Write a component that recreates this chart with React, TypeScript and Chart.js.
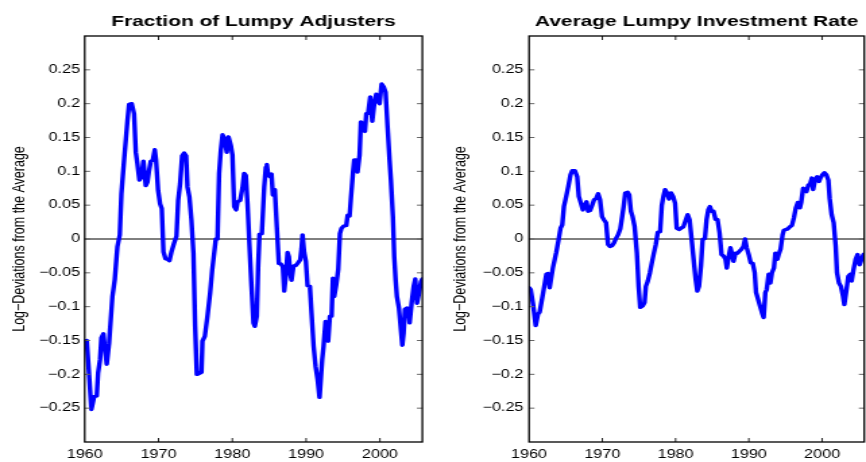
import React, { useEffect, useRef } from 'react';
import { Chart, registerables } from 'chart.js';

Chart.register(...registerables);

// ---------- data ----------
const xMin = 1960;
const xMax = 2005.75;
const yMin = -0.3;
const yMax = 0.3;

const xTickValues = [1960, 1970, 1980, 1990, 2000];
const xTickLabels = ['1960', '1970', '1980', '1990', '2000'];
const yTickValues = [-0.25, -0.2, -0.15, -0.1, -0.05, 0, 0.05, 0.1, 0.15, 0.2, 0.25];
const yTickLabels = ['−0.25', '−0.2', '−0.15', '−0.1', '−0.05', '0', '0.05', '0.1', '0.15', '0.2', '0.25'];

const panelTitles = ['Fraction of Lumpy Adjusters', 'Average Lumpy Investment Rate'];
const yAxisTitle = 'Log−Deviations from the Average';

const zeroLineYears = [1960, 2005.75];
const zeroLineValues = [0, 0];

const adjustersYears = [
  1960.00, 1960.27, 1960.59, 1960.90, 1961.27, 1961.63, 1961.81, 1962.08, 1962.26, 1962.53,
  1962.71, 1962.98, 1963.30, 1963.75, 1964.07, 1964.43, 1964.75, 1964.97, 1965.33, 1965.79,
  1966.01, 1966.37, 1966.69, 1966.92, 1967.14, 1967.41, 1967.68, 1967.95, 1968.14, 1968.27,
  1968.50, 1968.72, 1968.95, 1969.22, 1969.49, 1969.67, 1969.94, 1970.21, 1970.44, 1970.67,
  1970.94, 1971.21, 1971.48, 1971.75, 1972.11, 1972.43, 1972.66, 1972.93, 1973.20, 1973.47,
  1973.74, 1973.92, 1974.19, 1974.46, 1974.73, 1974.96, 1975.19, 1975.46, 1975.82, 1975.95,
  1976.27, 1976.63, 1976.99, 1977.27, 1977.54, 1977.76, 1977.99, 1978.21, 1978.44, 1978.67,
  1978.90, 1979.25, 1979.48, 1979.80, 1980.02, 1980.25, 1980.52, 1980.70, 1981.06, 1981.38,
  1981.60, 1981.83, 1982.06, 1982.33, 1982.60, 1982.87, 1983.05, 1983.32, 1983.50, 1983.68,
  1984.00, 1984.32, 1984.54, 1984.68, 1984.86, 1985.13, 1985.31, 1985.49, 1985.76, 1986.03,
  1986.30, 1986.58, 1986.85, 1987.03, 1987.25, 1987.48, 1987.66, 1987.84, 1988.02, 1988.29,
  1988.61, 1988.84, 1989.20, 1989.38, 1989.51, 1989.74, 1989.97, 1990.19, 1990.51, 1990.73,
  1991.01, 1991.28, 1991.55, 1991.82, 1992.18, 1992.36, 1992.63, 1992.81, 1992.99, 1993.22,
  1993.45, 1993.63, 1993.81, 1994.08, 1994.35, 1994.58, 1994.80, 1995.07, 1995.44, 1995.62,
  1995.89, 1996.07, 1996.34, 1996.52, 1996.79, 1996.97, 1997.24, 1997.42, 1997.69, 1997.97,
  1998.15, 1998.42, 1998.69, 1998.96, 1999.23, 1999.50, 1999.68, 1999.96, 2000.23, 2000.50,
  2000.77, 2001.04, 2001.31, 2001.49, 2001.76, 2001.94, 2002.12, 2002.30, 2002.58, 2002.76,
  2003.03, 2003.21, 2003.39, 2003.66, 2003.84, 2004.02, 2004.29, 2004.57, 2004.79, 2005.02,
  2005.29, 2005.56, 2005.75,
];
const adjustersValues = [
  -0.151, -0.150, -0.200, -0.252, -0.233, -0.232, -0.198, -0.178, -0.146, -0.140,
  -0.159, -0.185, -0.154, -0.085, -0.060, -0.011, 0.006, 0.067, 0.116, 0.175,
  0.199, 0.200, 0.185, 0.128, 0.111, 0.087, 0.092, 0.115, 0.094, 0.079,
  0.084, 0.101, 0.115, 0.116, 0.132, 0.116, 0.072, 0.052, 0.045, -0.019,
  -0.029, -0.030, -0.032, -0.019, -0.006, 0.004, 0.057, 0.082, 0.123, 0.127,
  0.123, 0.077, 0.062, 0.028, -0.021, -0.129, -0.200, -0.199, -0.197, -0.151,
  -0.144, -0.114, -0.080, -0.046, -0.021, 0.000, 0.000, 0.097, 0.131, 0.154,
  0.149, 0.128, 0.151, 0.138, 0.124, 0.048, 0.043, 0.055, 0.057, 0.076,
  0.097, 0.094, 0.052, -0.011, -0.070, -0.124, -0.129, -0.114, -0.040, 0.007,
  0.008, 0.077, 0.106, 0.110, 0.094, 0.092, 0.096, 0.065, 0.073, 0.018,
  -0.036, -0.037, -0.041, -0.077, -0.055, -0.020, -0.026, -0.050, -0.061, -0.040,
  -0.039, -0.036, -0.031, -0.014, 0.006, -0.020, -0.033, -0.069, -0.070, -0.109,
  -0.158, -0.188, -0.207, -0.234, -0.178, -0.159, -0.122, -0.124, -0.151, -0.114,
  -0.114, -0.058, -0.085, -0.068, -0.045, 0.008, 0.016, 0.019, 0.020, 0.035,
  0.034, 0.060, 0.097, 0.117, 0.117, 0.099, 0.124, 0.173, 0.170, 0.159,
  0.185, 0.187, 0.210, 0.174, 0.200, 0.214, 0.204, 0.200, 0.229, 0.225,
  0.217, 0.165, 0.116, 0.087, 0.033, -0.026, -0.060, -0.085, -0.102, -0.124,
  -0.157, -0.139, -0.104, -0.102, -0.103, -0.124, -0.095, -0.070, -0.059, -0.095,
  -0.080, -0.063, -0.059,
];

const investmentYears = [
  1960.00, 1960.23, 1960.54, 1960.91, 1961.22, 1961.45, 1961.90, 1962.36, 1962.58, 1962.81,
  1963.26, 1963.71, 1964.00, 1964.30, 1964.53, 1964.76, 1965.07, 1965.34, 1965.66, 1965.89,
  1966.25, 1966.57, 1966.79, 1967.07, 1967.34, 1967.61, 1967.84, 1968.06, 1968.33, 1968.61,
  1968.88, 1969.15, 1969.42, 1969.69, 1969.96, 1970.24, 1970.51, 1970.78, 1971.05, 1971.32,
  1971.59, 1971.87, 1972.14, 1972.45, 1972.68, 1972.91, 1973.13, 1973.45, 1973.68, 1973.90,
  1974.13, 1974.40, 1974.72, 1974.95, 1975.17, 1975.49, 1975.76, 1975.94, 1976.21, 1976.49,
  1976.76, 1977.03, 1977.30, 1977.57, 1977.89, 1978.12, 1978.34, 1978.57, 1978.84, 1979.11,
  1979.38, 1979.66, 1979.93, 1980.15, 1980.47, 1980.74, 1981.06, 1981.38, 1981.65, 1981.92,
  1982.19, 1982.46, 1982.74, 1982.96, 1983.19, 1983.46, 1983.69, 1984.00, 1984.23, 1984.46,
  1984.68, 1984.91, 1985.18, 1985.45, 1985.72, 1986.00, 1986.27, 1986.54, 1986.81, 1986.99,
  1987.26, 1987.49, 1987.72, 1987.90, 1988.17, 1988.44, 1988.71, 1988.99, 1989.26, 1989.48,
  1989.71, 1989.98, 1990.25, 1990.53, 1990.80, 1990.98, 1991.25, 1991.52, 1991.79, 1992.02,
  1992.25, 1992.43, 1992.70, 1992.93, 1993.15, 1993.42, 1993.61, 1993.88, 1994.06, 1994.33,
  1994.60, 1994.78, 1995.05, 1995.33, 1995.60, 1995.87, 1996.14, 1996.41, 1996.68, 1996.96,
  1997.14, 1997.41, 1997.68, 1997.86, 1998.13, 1998.32, 1998.59, 1998.77, 1999.04, 1999.31,
  1999.58, 1999.76, 2000.04, 2000.31, 2000.58, 2000.85, 2001.03, 2001.30, 2001.58, 2001.85,
  2002.03, 2002.30, 2002.57, 2002.84, 2003.03, 2003.30, 2003.57, 2003.84, 2004.02, 2004.29,
  2004.57, 2004.84, 2005.11, 2005.38, 2005.65, 2005.75,
];
const investmentValues = [
  -0.072, -0.075, -0.096, -0.128, -0.111, -0.108, -0.081, -0.052, -0.051, -0.072,
  -0.042, -0.020, -0.003, 0.016, 0.021, 0.048, 0.063, 0.077, 0.095, 0.101,
  0.101, 0.092, 0.063, 0.053, 0.043, 0.050, 0.055, 0.041, 0.042, 0.050,
  0.058, 0.060, 0.067, 0.058, 0.033, 0.028, 0.024, -0.008, -0.011, -0.010,
  -0.006, 0.001, 0.006, 0.015, 0.031, 0.048, 0.068, 0.069, 0.065, 0.041,
  0.033, 0.019, -0.021, -0.070, -0.101, -0.099, -0.094, -0.070, -0.062, -0.050,
  -0.035, -0.021, -0.008, 0.010, 0.011, 0.050, 0.063, 0.073, 0.068, 0.059,
  0.068, 0.063, 0.053, 0.016, 0.014, 0.016, 0.018, 0.028, 0.036, 0.028,
  -0.001, -0.030, -0.060, -0.077, -0.070, -0.040, -0.001, 0.001, 0.029, 0.043,
  0.048, 0.041, 0.041, 0.029, 0.029, 0.009, -0.023, -0.025, -0.030, -0.043,
  -0.025, -0.013, -0.023, -0.033, -0.021, -0.021, -0.018, -0.015, -0.011, 0.000,
  -0.013, -0.023, -0.035, -0.036, -0.050, -0.079, -0.089, -0.099, -0.109, -0.116,
  -0.079, -0.075, -0.052, -0.065, -0.050, -0.043, -0.021, -0.030, -0.023, -0.015,
  0.006, 0.013, 0.014, 0.015, 0.018, 0.020, 0.031, 0.046, 0.054, 0.046,
  0.054, 0.075, 0.073, 0.070, 0.080, 0.080, 0.090, 0.073, 0.088, 0.092,
  0.085, 0.090, 0.095, 0.098, 0.095, 0.087, 0.060, 0.036, 0.024, -0.011,
  -0.050, -0.065, -0.070, -0.084, -0.097, -0.077, -0.055, -0.052, -0.062, -0.045,
  -0.030, -0.023, -0.038, -0.030, -0.023, -0.022,
];

// ---------- styling ----------
const FONT = '"Liberation Sans", Arial, Helvetica, sans-serif';
const CANVAS_W = 321; // drawn narrow, shown stretched to 433px like the reference
const CANVAS_H = 462;
const CSS_W = 433;
const TICK_LEN = 4;

const boxPlugin = {
  id: 'matlabBox',
  afterDraw(chart: any) {
    const { ctx, chartArea: a, scales } = chart;
    const xs = scales.x;
    const ys = scales.y;
    ctx.save();
    ctx.lineWidth = 1;
    ctx.strokeStyle = '#666';
    ctx.beginPath();
    yTickValues.forEach((v) => {
      const py = ys.getPixelForValue(v);
      ctx.moveTo(a.left, py);
      ctx.lineTo(a.left + TICK_LEN, py);
      ctx.moveTo(a.right, py);
      ctx.lineTo(a.right - TICK_LEN, py);
    });
    ctx.stroke();
    ctx.strokeStyle = '#222';
    ctx.beginPath();
    xTickValues.forEach((v) => {
      if (v <= xMin || v >= xMax) return;
      const px = xs.getPixelForValue(v);
      ctx.moveTo(px, a.top);
      ctx.lineTo(px, a.top + TICK_LEN);
      ctx.moveTo(px, a.bottom);
      ctx.lineTo(px, a.bottom - TICK_LEN);
    });
    ctx.stroke();
    ctx.strokeStyle = '#000';
    ctx.lineWidth = 1.3;
    ctx.strokeRect(a.left, a.top, a.right - a.left, a.bottom - a.top);
    ctx.restore();
  },
};

type PanelProps = {
  title: string;
  years: number[];
  values: number[];
  yAxisWidth: number;
  rightPad: number;
  yTitlePad: number;
  yTickPad: number;
};

function Panel({ title, years, values, yAxisWidth, rightPad, yTitlePad, yTickPad }: PanelProps) {
  const ref = useRef<HTMLCanvasElement | null>(null);
  useEffect(() => {
    if (!ref.current) return;
    const chart = new Chart(ref.current, {
      type: 'line',
      data: {
        datasets: [
          {
            data: years.map((x, i) => ({ x, y: values[i] })),
            borderColor: '#0000ff',
            borderWidth: 3.4,
            pointRadius: 0,
            tension: 0,
            fill: false,
            borderJoinStyle: 'round',
            borderCapStyle: 'round',
          },
          {
            data: zeroLineYears.map((x, i) => ({ x, y: zeroLineValues[i] })),
            borderColor: '#000',
            borderWidth: 1,
            pointRadius: 0,
            fill: false,
          },
        ],
      },
      options: {
        responsive: false,
        animation: false,
        devicePixelRatio: 1,
        layout: { padding: { left: 0, right: rightPad, top: 0, bottom: 0 } },
        plugins: {
          legend: { display: false },
          tooltip: { enabled: false },
          title: {
            display: true,
            fullSize: false,
            align: 'center',
            text: title,
            color: '#000',
            font: { family: FONT, size: 15.5, weight: 'bold' },
            padding: { top: 12.6, bottom: 4.8 },
          },
        },
        scales: {
          x: {
            type: 'linear',
            min: xMin,
            max: xMax,
            afterBuildTicks: (s: any) => {
              s.ticks = xTickValues.map((v) => ({ value: v }));
            },
            afterFit: (s: any) => {
              s.height = 20;
            },
            ticks: {
              callback: (v: any) => xTickLabels[xTickValues.indexOf(Number(v))],
              color: '#000',
              font: { family: FONT, size: 12 },
              padding: 5,
              maxRotation: 0,
              autoSkip: false,
            },
            grid: { display: false, drawTicks: false },
            border: { display: false },
          },
          y: {
            type: 'linear',
            min: yMin,
            max: yMax,
            afterBuildTicks: (s: any) => {
              s.ticks = yTickValues.map((v) => ({ value: v }));
            },
            afterFit: (s: any) => {
              s.width = yAxisWidth;
            },
            ticks: {
              callback: (v: any) => yTickLabels[yTickValues.indexOf(Number(v))],
              color: '#000',
              font: { family: FONT, size: 12 },
              padding: yTickPad,
              autoSkip: false,
            },
            grid: { display: false, drawTicks: false },
            border: { display: false },
            title: {
              display: true,
              text: yAxisTitle,
              color: '#000',
              font: { family: FONT, size: 12.5 },
              padding: { top: yTitlePad, bottom: 0 },
            },
          },
        },
      } as any,
      plugins: [boxPlugin],
    });
    return () => chart.destroy();
  }, [title, years, values, yAxisWidth, rightPad, yTitlePad, yTickPad]);

  return (
    <canvas
      ref={ref}
      width={CANVAS_W}
      height={CANVAS_H}
      style={{ width: CSS_W, height: CANVAS_H, display: 'block' }}
    />
  );
}

export default function App() {
  return (
    <div
      style={{
        position: 'absolute',
        left: 0,
        top: 0,
        width: 866,
        height: 462,
        display: 'flex',
        background: '#fff',
      }}
    >
      <Panel
        title={panelTitles[0]}
        years={adjustersYears}
        values={adjustersValues}
        yAxisWidth={62.8}
        rightPad={7.9}
        yTitlePad={6.6}
        yTickPad={3.5}
      />
      <Panel
        title={panelTitles[1]}
        years={investmentYears}
        values={investmentValues}
        yAxisWidth={71.2}
        rightPad={1.3}
        yTitlePad={13}
        yTickPad={4.2}
      />
    </div>
  );
}
